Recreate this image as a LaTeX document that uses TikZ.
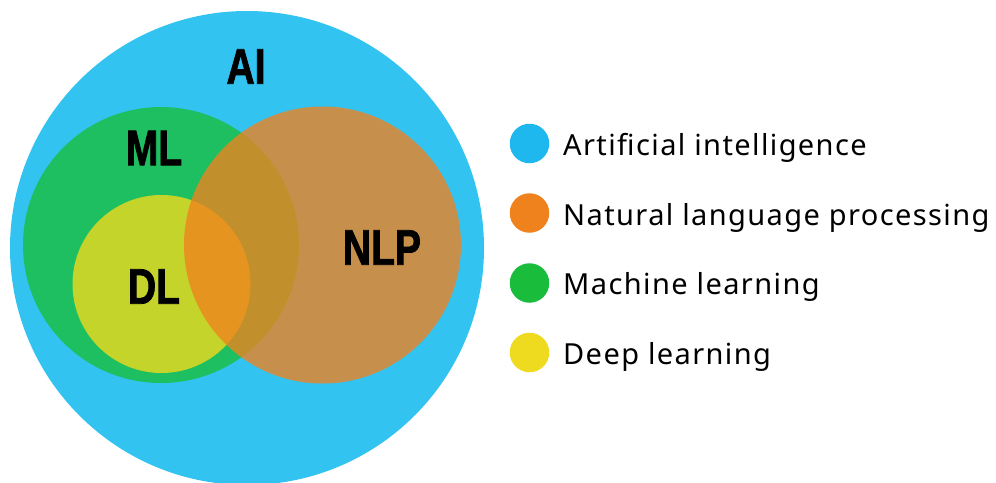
\documentclass[tikz,border=0pt]{standalone}
\usepackage{fontspec}
\setmainfont[LetterSpace=4.8]{Noto Sans}
\newfontfamily\vennfont[FakeStretch=0.78, BoldFeatures={FakeBold=1.5}]{Liberation Sans}
\usepackage{tikz}
\usetikzlibrary{positioning}
\definecolor{AI-blue}{RGB}{51,195,240}
\definecolor{AI-dot}{RGB}{30,184,238}
\definecolor{ML-green}{RGB}{29,191,96}
\definecolor{ML-dot}{RGB}{26,188,60}
\definecolor{DL-yellow}{RGB}{238,218,30}
\definecolor{NLP-orange}{RGB}{240,130,30}

\begin{document}
\begin{tikzpicture}[x=1pt, y=-1pt]
      \tikzset{ set/.style    ={circle, inner sep=0pt, draw=none} }
      \tikzset{ setname/.style={font=\vennfont\bfseries\fontsize{50}{50}\selectfont, text=black, inner sep=0pt} }
      \tikzset{ dot/.style    ={circle, inner sep=0pt, minimum size=39.5pt, draw=none} }
      \tikzset{ legtext/.style={font=\fontsize{29}{34}\selectfont, text=black, inner sep=0pt, anchor=base west} }

      \useasboundingbox (0,0) rectangle (996,482);

      % the sets
      \node[set, fill=AI-blue,    minimum size=474pt] (ai)  at (247.0,248.0) {};
      \node[set, fill=ML-green,   minimum size=276pt] (ml)  at (161.0,245.0) {};
      \node[set, fill=DL-yellow,  fill opacity=0.80, minimum size=178pt] (dl)  at (161.5,284.0) {};
      \node[set, fill=NLP-orange, fill opacity=0.78, minimum size=277pt] (nlp) at (322.5,245.0) {};

      \node[setname] (ai_name)  at (246.0, 66.5) {AI};
      \node[setname] (ml_name)  at (154.0,148.0) {ML};
      \node[setname] (dl_name)  at (154.0,286.5) {DL};
      \node[setname] (nlp_name) at (382.0,247.5) {NLP};

      % legend
      \node[dot, fill=AI-dot    ] (ai_dot)  at (529.5,143.5) {};
      \node[dot, fill=NLP-orange] (nlp_dot) at (529.5,213.0) {};
      \node[dot, fill=ML-dot    ] (ml_dot)  at (529.5,283.0) {};
      \node[dot, fill=DL-yellow ] (dl_dot)  at (529.5,352.5) {};

      \node[legtext] (ai_txt)  at (563,155.3) {Artificial intelligence};
      \node[legtext] (nlp_txt) at (563,225.0) {Natural language processing};
      \node[legtext] (ml_txt)  at (563,294.7) {Machine learning};
      \node[legtext] (dl_txt)  at (563,364.4) {Deep learning};
    \end{tikzpicture}
\end{document}
